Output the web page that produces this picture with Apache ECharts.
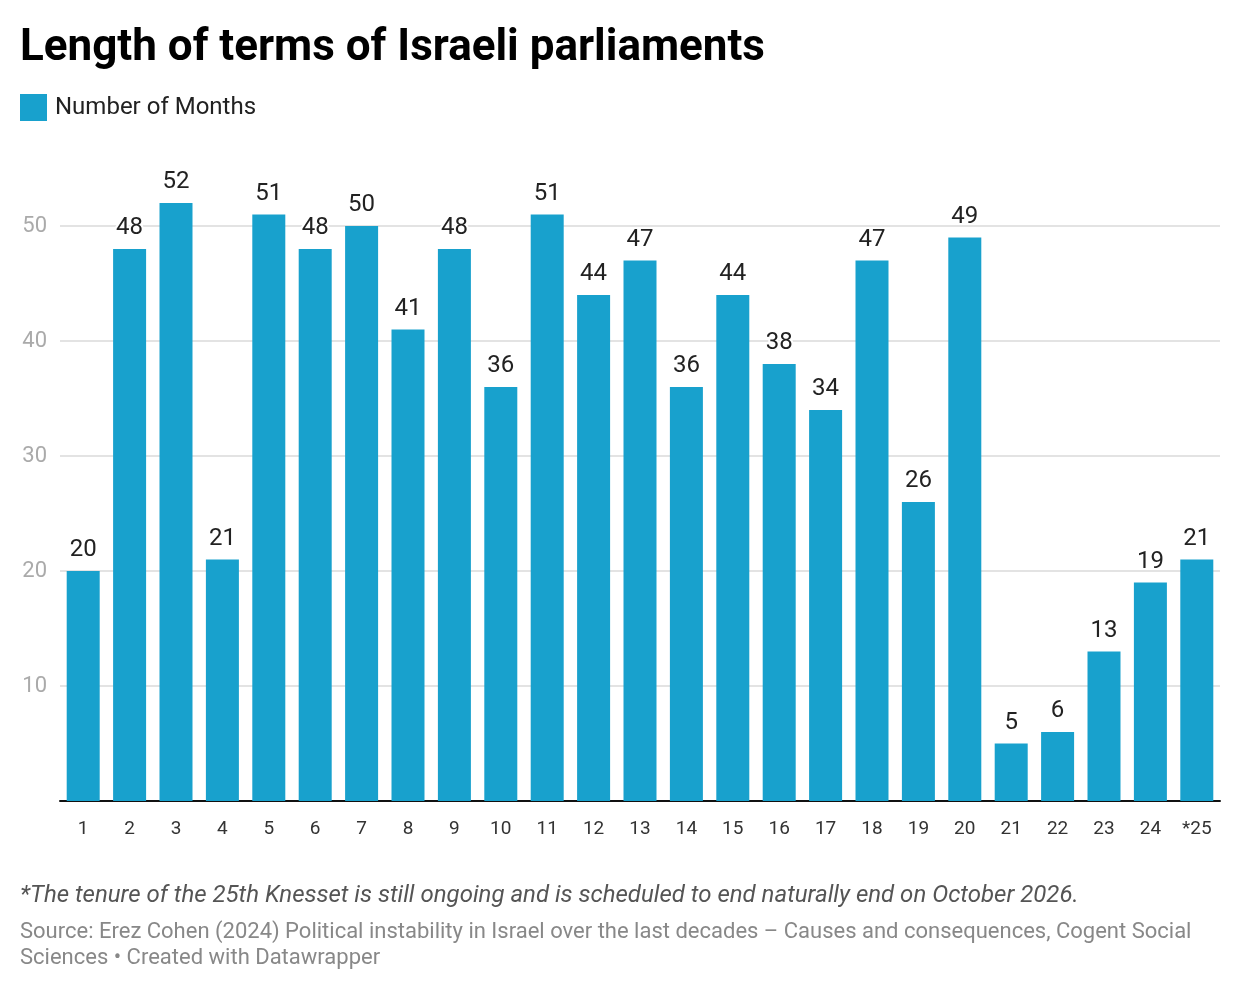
<!DOCTYPE html>
<html>
<head>
<meta charset="utf-8">
<script src="https://cdn.jsdelivr.net/npm/echarts@6/dist/echarts.min.js"></script>
<style>
  html, body { margin: 0; padding: 0; background: #fff; }
  #chart { width: 1240px; height: 992px; }
</style>
</head>
<body>
<div id="chart"></div>
<script>
// knesset number, * = still in office
let knessets = ['1', '2', '3', '4', '5', '6', '7', '8', '9', '10', '11', '12', '13',
  '14', '15', '16', '17', '18', '19', '20', '21', '22', '23', '24', '*25'];
let months = [20, 48, 52, 21, 51, 48, 50, 41, 48, 36, 51, 44, 47,
  36, 44, 38, 34, 47, 26, 49, 5, 6, 13, 19, 21];
let yTicks = [10, 20, 30, 40, 50];

let barColor = '#18a1cd';
let font = 'Roboto, "Noto Sans", sans-serif';

let option = {
    backgroundColor: '#fff',
    animation: false,
    textStyle: { fontFamily: font },
    title: [{
        text: 'Length of terms of Israeli parliaments',
        left: 20, top: 27, padding: 0,
        textStyle: { fontSize: 44, fontWeight: 'bold', color: '#000', fontFamily: font }
    }, {
        text: '*The tenure of the 25th Knesset is still ongoing and is scheduled to end naturally end on October 2026.',
        left: 20, top: 884, padding: 0,
        textStyle: { fontSize: 24, fontStyle: 'italic', fontWeight: 'normal', color: '#555', fontFamily: font }
    }, {
        text: 'Source: Erez Cohen (2024) Political instability in Israel over the last decades – Causes and consequences, Cogent Social\nSciences • Created with Datawrapper',
        left: 20, top: 919, padding: 0,
        textStyle: { fontSize: 22, fontWeight: 'normal', color: '#888', lineHeight: 26, fontFamily: font }
    }],
    legend: {
        left: 20, top: 94, padding: 0,
        itemWidth: 27, itemHeight: 27,
        itemGap: 8,
        icon: 'rect',
        textStyle: { fontSize: 24, color: '#222', fontFamily: font, padding: [0, 0, 0, 3] },
        data: ['Number of Months']
    },
    grid: { left: 60, right: 20, top: 168.5, bottom: 191, containLabel: false },
    xAxis: {
        type: 'category',
        data: knessets,
        axisLine: { show: true, lineStyle: { color: '#111', width: 2 } },
        axisTick: { show: false },
        axisLabel: { fontSize: 19, color: '#333', margin: 19, fontFamily: font }
    },
    yAxis: {
        type: 'value',
        min: 0, max: 55, interval: 10,
        axisLine: { show: false },
        axisTick: { show: false },
        axisLabel: {
            showMaxLabel: false,
            fontSize: 22, color: '#aaa', margin: 13, fontFamily: font,
            formatter: function (v) { return yTicks.indexOf(v) >= 0 ? String(v) : ''; }
        },
        splitLine: { show: true, showMaxLine: false, lineStyle: { color: '#e3e3e3', width: 2 } }
    },
    series: [{
        name: 'Number of Months',
        type: 'bar',
        data: months,
        barWidth: 33,
        itemStyle: { color: barColor },
        label: {
            show: true,
            position: 'top',
            distance: 9,
            fontSize: 24,
            color: '#222',
            fontFamily: font,
            textBorderColor: '#fff',
            textBorderWidth: 4
        }
    }]
};

let mychart = echarts.init(document.getElementById('chart'));
mychart.setOption(option);
</script>
</body>
</html>
